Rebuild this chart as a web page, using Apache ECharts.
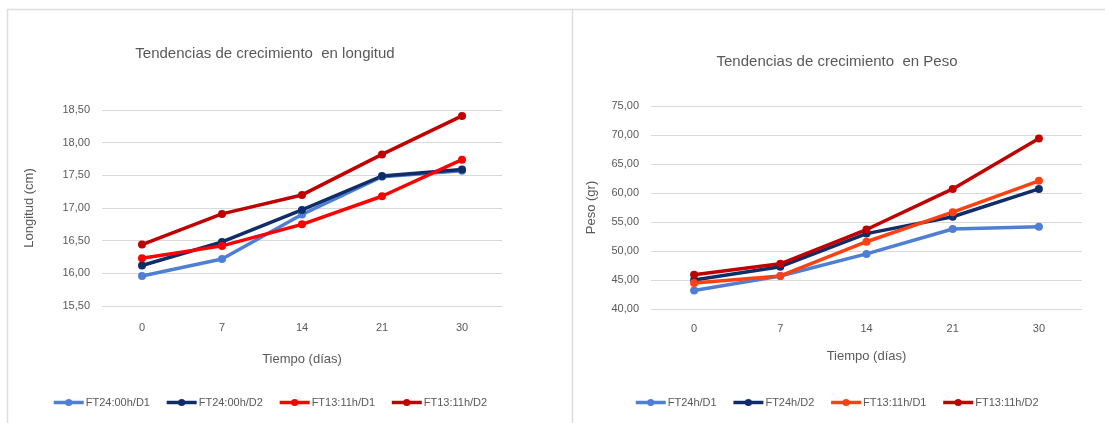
<!DOCTYPE html>
<html>
<head>
<meta charset="utf-8">
<script src="https://cdn.jsdelivr.net/npm/echarts@6/dist/echarts.min.js"></script>
<style>
  html, body { margin: 0; padding: 0; background: #ffffff; }
  #chart { width: 1105px; height: 423px; }
</style>
</head>
<body>
<div id="chart"></div>
<script>
// Sampling days (shared by both panels)
const days = ['0', '7', '14', '21', '30'];

// Length panel (cm)
const lenNames = ['FT24:00h/D1', 'FT24:00h/D2', 'FT13:11h/D1', 'FT13:11h/D2'];
const lenFT24D1 = [15.96, 16.22, 16.90, 17.48, 17.57];
const lenFT24D2 = [16.12, 16.48, 16.97, 17.49, 17.59];
const lenFT13D1 = [16.23, 16.42, 16.75, 17.18, 17.74];
const lenFT13D2 = [16.44, 16.91, 17.20, 17.82, 18.41];
const lenTicks = { min: 15.5, max: 18.5, step: 0.5 };

// Weight panel (gr)
const wNames = ['FT24h/D1', 'FT24h/D2', 'FT13:11h/D1', 'FT13:11h/D2'];
const wFT24D1 = [43.2, 45.7, 49.5, 53.8, 54.2];
const wFT24D2 = [45.0, 47.3, 53.0, 55.9, 60.7];
const wFT13D1 = [44.5, 45.7, 51.6, 56.7, 62.1];
const wFT13D2 = [45.9, 47.8, 53.7, 60.7, 69.4];
const wTicks = { min: 40, max: 75, step: 5 };

const lenColors = ['#4F7FD4', '#102D6A', '#FF0000', '#C00000'];
const wColors = ['#4F7FD4', '#102D6A', '#FF4012', '#C00000'];

const txt = '#595959';
const gridLine = '#D9D9D9';
const font = 'Liberation Sans, Arial, sans-serif';

const comma = v => v.toFixed(2).replace('.', ',');

function lineSeries(name, data, color, idx) {
  return {
    name: name,
    type: 'line',
    xAxisIndex: idx,
    yAxisIndex: idx,
    data: data,
    symbol: 'circle',
    symbolSize: 8,
    lineStyle: { width: 3.5, color: color },
    itemStyle: { color: color },
    emphasis: { disabled: true },
    animation: false
  };
}

function legendData(names, colors) {
  return names.map((n, i) => ({
    name: n,
    itemStyle: { color: colors[i] },
    lineStyle: { color: colors[i], width: 3.5 }
  }));
}

const chart = echarts.init(document.getElementById('chart'), null, { renderer: 'canvas' });

const option = {
  backgroundColor: '#ffffff',
  textStyle: { fontFamily: font },
  title: [
    {
      text: 'Tendencias de crecimiento  en longitud',
      left: 260, top: 41, textAlign: 'center',
      textStyle: { color: txt, fontSize: 15, fontWeight: 'normal', fontFamily: font }
    },
    {
      text: 'Tendencias de crecimiento  en Peso',
      left: 832, top: 49, textAlign: 'center',
      textStyle: { color: txt, fontSize: 15, fontWeight: 'normal', fontFamily: font }
    }
  ],
  legend: [
    {
      left: 52, top: 397, padding: 0, itemWidth: 30, itemHeight: 9, itemGap: 15,
      data: legendData(lenNames, lenColors),
      textStyle: { color: txt, fontSize: 11, fontFamily: font, padding: [0, 0, 0, -3] },
      selectedMode: false
    },
    {
      left: 634, top: 397, padding: 0, itemWidth: 30, itemHeight: 9, itemGap: 15,
      data: legendData(wNames, wColors),
      textStyle: { color: txt, fontSize: 11, fontFamily: font, padding: [0, 0, 0, -3] },
      selectedMode: false
    }
  ],
  grid: [
    { left: 102, top: 110, width: 400, height: 196 },
    { left: 651, top: 106, width: 431, height: 203 }
  ],
  xAxis: [0, 1].map(i => ({
    type: 'category',
    gridIndex: i,
    data: days,
    boundaryGap: true,
    name: 'Tiempo (días)',
    nameLocation: 'middle',
    nameGap: i === 0 ? 47 : 41,
    nameTextStyle: { color: txt, fontSize: 13, fontFamily: font },
    axisLine: { show: false },
    axisTick: { show: false },
    axisLabel: { color: txt, fontSize: 11, margin: i === 0 ? 16 : 14, fontFamily: font }
  })),
  yAxis: [
    {
      type: 'value', gridIndex: 0,
      min: lenTicks.min, max: lenTicks.max, interval: lenTicks.step,
      name: 'Longitud (cm)', nameLocation: 'middle', nameGap: 66,
      nameTextStyle: { color: txt, fontSize: 13, fontFamily: font },
      axisLine: { show: false }, axisTick: { show: false },
      axisLabel: { color: txt, fontSize: 11, margin: 12, formatter: comma, fontFamily: font },
      splitLine: { lineStyle: { color: gridLine, width: 1 } }
    },
    {
      type: 'value', gridIndex: 1,
      min: wTicks.min, max: wTicks.max, interval: wTicks.step,
      name: 'Peso (gr)', nameLocation: 'middle', nameGap: 53,
      nameTextStyle: { color: txt, fontSize: 13, fontFamily: font },
      axisLine: { show: false }, axisTick: { show: false },
      axisLabel: { color: txt, fontSize: 11, margin: 12, formatter: comma, fontFamily: font },
      splitLine: { lineStyle: { color: gridLine, width: 1 } }
    }
  ],
  series: [
    lineSeries(lenNames[0], lenFT24D1, lenColors[0], 0),
    lineSeries(lenNames[1], lenFT24D2, lenColors[1], 0),
    lineSeries(lenNames[2], lenFT13D1, lenColors[2], 0),
    lineSeries(lenNames[3], lenFT13D2, lenColors[3], 0),
    lineSeries(wNames[0], wFT24D1, wColors[0], 1),
    lineSeries(wNames[1], wFT24D2, wColors[1], 1),
    lineSeries(wNames[2], wFT13D1, wColors[2], 1),
    lineSeries(wNames[3], wFT13D2, wColors[3], 1)
  ],
  // Panel frames
  graphic: [
    { type: 'line', shape: { x1: 7, y1: 9.5, x2: 1105, y2: 9.5 }, style: { stroke: '#DDDDDD', lineWidth: 1.5 }, silent: true },
    { type: 'line', shape: { x1: 7.5, y1: 9.5, x2: 7.5, y2: 423 }, style: { stroke: '#DDDDDD', lineWidth: 1.5 }, silent: true },
    { type: 'line', shape: { x1: 572.5, y1: 9.5, x2: 572.5, y2: 423 }, style: { stroke: '#DDDDDD', lineWidth: 1.5 }, silent: true }
  ],
  animation: false
};

chart.setOption(option);
</script>
</body>
</html>
